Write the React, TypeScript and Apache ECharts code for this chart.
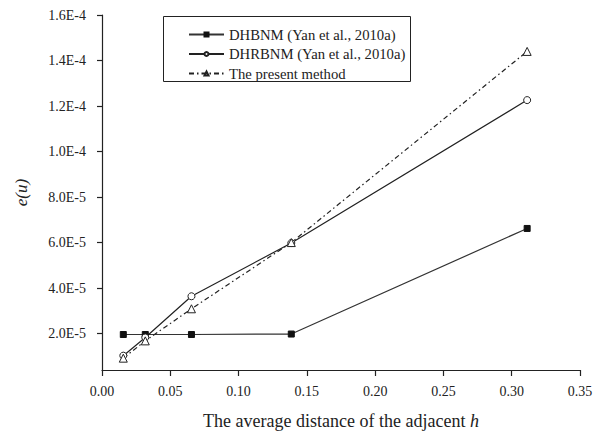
import React, { useEffect, useRef } from "react";
import * as echarts from "echarts";

const hValues = [0.0156, 0.0317, 0.0655, 0.1386, 0.3113];
const dhbnm = [1.96e-5, 1.96e-5, 1.96e-5, 1.98e-5, 6.62e-5];
const dhrbnm = [1.03e-5, 1.83e-5, 3.64e-5, 5.98e-5, 1.226e-4];
const present = [9.2e-6, 1.68e-5, 3.09e-5, 6.0e-5, 1.44e-4];
const yTicks = [2e-5, 4e-5, 6e-5, 8e-5, 1e-4, 1.2e-4, 1.4e-4, 1.6e-4];
const seriesNames = [
  "DHBNM (Yan et al., 2010a)",
  "DHRBNM (Yan et al., 2010a)",
  "The present method",
];

const FONT = "'Liberation Serif', serif";
const INK = "#222";

function sci(v: number): string {
  const e = Math.floor(Math.log10(v) + 1e-9);
  const m = v / Math.pow(10, e);
  return m.toFixed(1) + "E" + (e < 0 ? "-" : "") + Math.abs(e);
}

function pairs(ys: number[]) {
  return hValues.map((h, i) => [h, ys[i]]);
}

export default function App() {
  const ref = useRef<HTMLDivElement>(null);
  useEffect(() => {
    if (!ref.current) return;
    const chart = echarts.init(ref.current, null, { renderer: "svg" });
    chart.setOption({
      animation: false,
      backgroundColor: "#fff",
      textStyle: { fontFamily: FONT, color: INK },
      grid: { left: 102, right: 24, top: 15, bottom: 62.5, containLabel: false },
      legend: {
        orient: "vertical",
        left: 188,
        top: 27,
        padding: 0,
        itemWidth: 35,
        itemHeight: 5,
        itemGap: 4.5,
        textStyle: { fontFamily: FONT, fontSize: 14.7, color: INK, lineHeight: 15 },
        data: seriesNames,
      },
      graphic: [
        {
          type: "rect",
          shape: { x: 163.5, y: 16.5, width: 247, height: 65 },
          style: { fill: "none", stroke: INK, lineWidth: 1 },
          silent: true,
        },
      ],
      xAxis: {
        type: "value",
        min: 0,
        max: 0.35,
        interval: 0.05,
        name: "The average distance of the adjacent {i|h}",
        nameLocation: "middle",
        nameGap: 42,
        nameTextStyle: {
          fontFamily: FONT,
          fontSize: 18,
          color: INK,
          rich: { i: { fontFamily: FONT, fontSize: 18, fontStyle: "italic", color: INK } },
        },
        axisLine: { lineStyle: { color: INK, width: 1.2 } },
        axisTick: { inside: false, length: 6, lineStyle: { color: INK, width: 1.2 } },
        axisLabel: {
          fontFamily: FONT,
          fontSize: 14,
          color: INK,
          margin: 14,
          formatter: (v: number) => v.toFixed(2),
        },
        splitLine: { show: false },
      },
      yAxis: {
        type: "value",
        min: 4e-6,
        max: 1.6e-4,
        name: "e(u)",
        nameLocation: "middle",
        nameGap: 72,
        nameRotate: 90,
        nameTextStyle: { fontFamily: FONT, fontSize: 17, fontStyle: "italic", color: INK },
        axisLine: { show: true, lineStyle: { color: INK, width: 1.2 } },
        axisTick: {
          show: true,
          inside: false,
          length: 5,
          customValues: yTicks,
          lineStyle: { color: INK, width: 1.2 },
        },
        axisLabel: {
          fontFamily: FONT,
          fontSize: 14,
          color: INK,
          margin: 16,
          customValues: yTicks,
          formatter: (v: number) => sci(v),
        },
        splitLine: { show: false },
      },
      series: [
        {
          name: seriesNames[0],
          type: "line",
          data: pairs(dhbnm),
          symbol: "rect",
          symbolSize: 6,
          lineStyle: { color: "#333", width: 1.2 },
          itemStyle: { color: "#111", borderColor: "#111", borderWidth: 1 },
        },
        {
          name: seriesNames[1],
          type: "line",
          data: pairs(dhrbnm),
          symbol: "circle",
          symbolSize: 7,
          lineStyle: { color: INK, width: 1.2 },
          itemStyle: { color: "#fff", borderColor: INK, borderWidth: 1 },
        },
        {
          name: seriesNames[2],
          type: "line",
          data: pairs(present),
          symbol: "triangle",
          symbolSize: 8,
          lineStyle: { color: INK, width: 1.2, type: [5, 3, 1.5, 3] },
          itemStyle: { color: "#fff", borderColor: INK, borderWidth: 1 },
        },
      ],
    });
    return () => chart.dispose();
  }, []);
  return (
    <div
      ref={ref}
      style={{ position: "fixed", left: 0, top: 0, width: 604, height: 435, background: "#fff" }}
    />
  );
}
